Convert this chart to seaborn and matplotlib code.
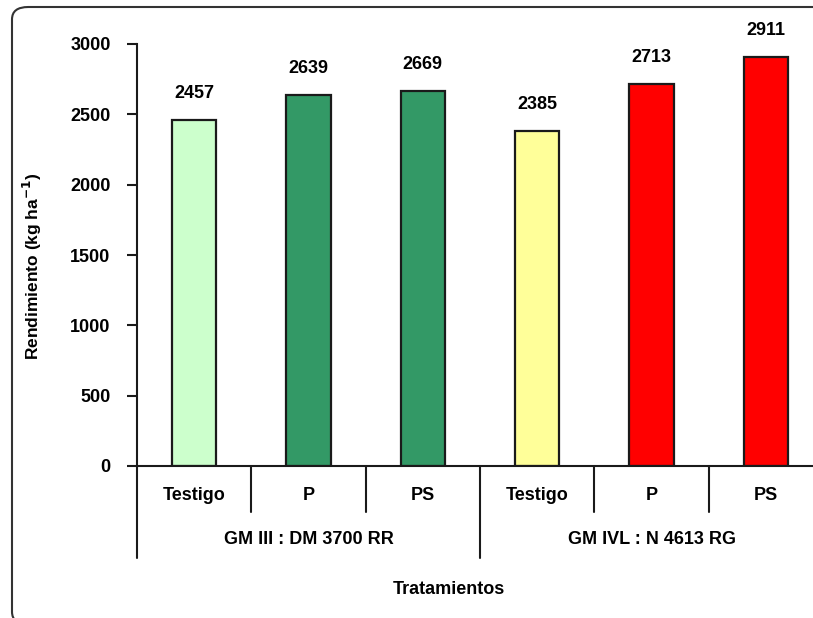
import matplotlib
matplotlib.use("Agg")
import matplotlib.pyplot as plt
import matplotlib.transforms as mtransforms
from matplotlib.patches import FancyBboxPatch
import pandas as pd
import seaborn as sns

# data
tratamientos = ["Testigo", "P", "PS", "Testigo", "P", "PS"]
grupos = ["GM III : DM 3700 RR", "GM IVL : N 4613 RG"]
rendimiento = [2457, 2639, 2669, 2385, 2713, 2911]
colores = ["#CCFFCC", "#339966", "#339966", "#FFFF99", "#FF0000", "#FF0000"]
y_ticks = [0, 500, 1000, 1500, 2000, 2500, 3000]

sns.set_theme(style="white")
plt.rcParams["font.family"] = ["Liberation Sans", "DejaVu Sans"]
plt.rcParams["font.weight"] = "bold"
plt.rcParams["text.color"] = "black"
plt.rcParams["ytick.color"] = "black"
plt.rcParams["ytick.labelcolor"] = "black"

df = pd.DataFrame({"pos": [str(i) for i in range(len(rendimiento))],
                   "rend": rendimiento})

fig = plt.figure(figsize=(8.13, 6.18), dpi=100)
ax = fig.add_axes([137 / 813, (618 - 466) / 618, 686 / 813, 422 / 618])

sns.barplot(data=df, x="pos", y="rend", hue="pos", palette=colores, saturation=1,
            width=0.385, edgecolor="#1a1a1a", linewidth=1.6, legend=False, ax=ax)

ax.set_xlim(-0.5, 5.5)
ax.set_ylim(0, 3000)
ax.set_yticks(y_ticks)
ax.set_yticklabels([str(t) for t in y_ticks], fontsize=13, fontweight="bold")
ax.tick_params(axis="y", direction="out", length=7, width=1.5, pad=12, left=True, color="#1a1a1a")
ax.set_xticks([])
ax.set_xlabel("")
ax.set_ylabel("")
for s in ["top", "right"]:
    ax.spines[s].set_visible(False)
for s in ["left", "bottom"]:
    ax.spines[s].set_linewidth(1.5)
    ax.spines[s].set_color("#1a1a1a")

# value labels
for i, v in enumerate(rendimiento):
    ax.annotate(str(v), (i, v), xytext=(0, 19), textcoords="offset points",
                ha="center", va="center", fontsize=13, fontweight="bold")

# category axis with separators
trans = mtransforms.blended_transform_factory(ax.transData, ax.transAxes)
for i, lab in enumerate(tratamientos):
    ax.text(i, -0.069, lab, transform=trans, ha="center", va="center",
            fontsize=13, fontweight="bold")
for x in [0.5, 1.5, 3.5, 4.5]:
    ax.plot([x, x], [0, -0.109], transform=trans, color="#1a1a1a", lw=1.5, clip_on=False)
for x in [-0.5, 2.5, 5.5]:
    ax.plot([x, x], [0, -0.218], transform=trans, color="#1a1a1a", lw=1.5, clip_on=False)
for g, lab in enumerate(grupos):
    ax.text(g * 3 + 1, -0.175, lab, transform=trans, ha="center", va="center",
            fontsize=13, fontweight="bold")

fig.text(449 / 813, 1 - 589 / 618, "Tratamientos", ha="center", va="center",
         fontsize=13, fontweight="bold")
fig.text(32 / 813, 1 - 266 / 618, "Rendimiento (kg ha$^{\\mathbf{-1}}$)", rotation=90,
         ha="center", va="center", fontsize=12.5, fontweight="bold")

# rounded frame around the chart (right and bottom edges fall outside the image)
frame = FancyBboxPatch((12 / 813, -0.01), 860 / 813, 1 - 7 / 618 + 0.01,
                       boxstyle="round,pad=0,rounding_size=0.02", transform=fig.transFigure,
                       fill=False, edgecolor="#333333", linewidth=1.5, clip_on=False)
fig.patches.append(frame)

fig.savefig("out.png", dpi=100)
